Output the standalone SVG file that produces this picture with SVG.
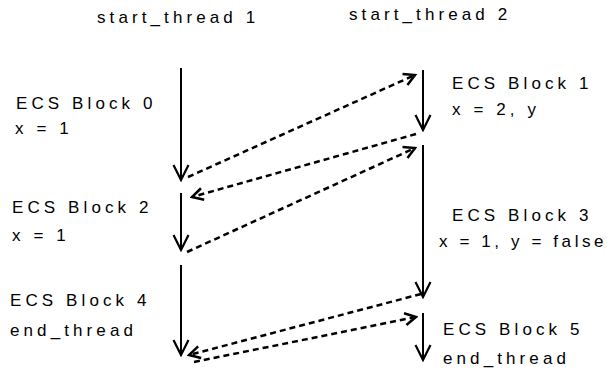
<svg xmlns="http://www.w3.org/2000/svg" width="612" height="372" viewBox="0 0 612 372">
  <style>
    text { font-family: "Liberation Sans", Arial, sans-serif; font-size: 17px; letter-spacing: 4.1px; fill: #000; }
    .tight { letter-spacing: 3.6px; }
    .flow { stroke: #000; stroke-width: 2; fill: none; marker-end: url(#vee); }
    .sync { stroke: #000; stroke-width: 2.5; stroke-dasharray: 6 4; fill: none; marker-end: url(#veeSmall); }
  </style>
  <defs>
    <marker id="vee" markerUnits="userSpaceOnUse" viewBox="-16 -9 18 18" markerWidth="18" markerHeight="18" refX="0" refY="0" orient="auto">
      <path d="M-15,-7.5 L0,0 L-15,7.5" fill="none" stroke="#000" stroke-width="2.2"/>
    </marker>
    <marker id="veeSmall" markerUnits="userSpaceOnUse" viewBox="-13 -8 15 16" markerWidth="15" markerHeight="16" refX="0" refY="0" orient="auto">
      <path d="M-11,-6 L0,0 L-11,6" fill="none" stroke="#000" stroke-width="2.5"/>
    </marker>
  </defs>

  <g id="thread1-title"><text x="97" y="23">start_thread 1</text></g>
  <g id="thread2-title"><text x="349" y="20">start_thread 2</text></g>

  <g id="block0"><text x="16" y="109">ECS Block 0</text><text x="15" y="134">x = 1</text></g>
  <g id="block2"><text x="12" y="213">ECS Block 2</text><text x="12" y="241">x = 1</text></g>
  <g id="block4"><text x="10" y="306">ECS Block 4</text><text x="10" y="336">end_thread</text></g>
  <g id="block1"><text x="452" y="89">ECS Block 1</text><text x="452" y="115">x = 2, y</text></g>
  <g id="block3"><text x="452" y="221">ECS Block 3</text><text class="tight" x="439" y="247">x = 1, y = false</text></g>
  <g id="block5"><text x="443" y="335">ECS Block 5</text><text x="443" y="364">end_thread</text></g>

  <g id="connectors">
    <!-- thread 1 control flow -->
    <line class="flow" x1="181" y1="68" x2="181" y2="180"/>
    <line class="flow" x1="181" y1="193" x2="181" y2="250"/>
    <line class="flow" x1="181" y1="265" x2="181" y2="355"/>
    <!-- thread 2 control flow -->
    <line class="flow" x1="423" y1="70" x2="423" y2="130"/>
    <line class="flow" x1="423" y1="145" x2="423" y2="297"/>
    <line class="flow" x1="423" y1="313" x2="423" y2="360"/>
    <!-- cross-thread synchronisation -->
    <line class="sync" x1="188" y1="177" x2="415" y2="75"/>
    <line class="sync" x1="416" y1="134" x2="192" y2="197"/>
    <line class="sync" x1="187" y1="252" x2="415" y2="148"/>
    <line class="sync" x1="421" y1="294" x2="189" y2="355"/>
    <line class="sync" x1="194" y1="362" x2="416" y2="317"/>
  </g>
</svg>
